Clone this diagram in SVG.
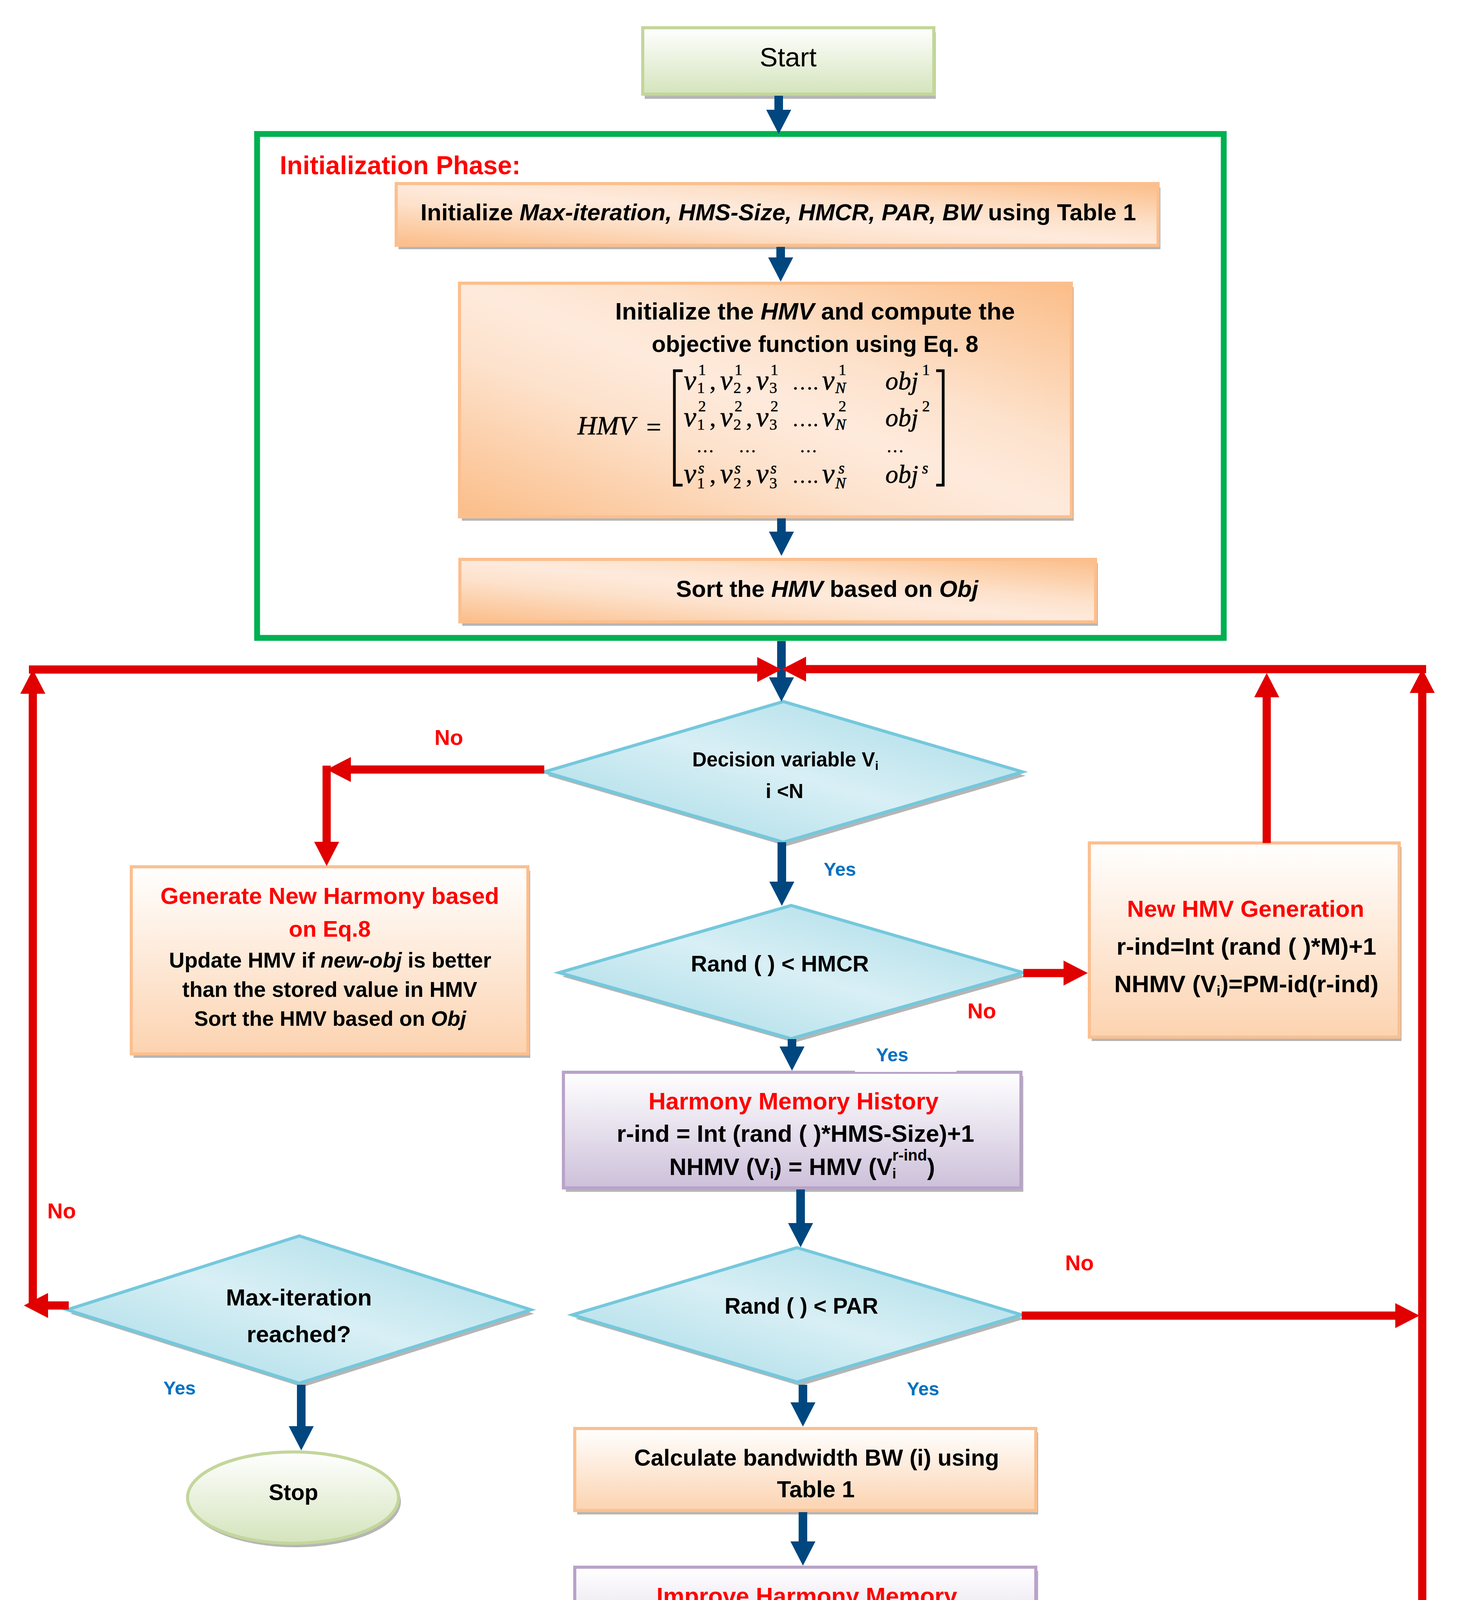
<svg xmlns="http://www.w3.org/2000/svg" width="3729" height="4523" viewBox="0 0 3729 4523">
<style>
.t{font-family:"Liberation Sans",Arial,sans-serif;font-weight:bold;fill:#000}
.c{text-anchor:middle}
.red{fill:#ff0000}
.blue{fill:#0070c0}
.it{font-style:italic}
.m{font-family:"Liberation Serif","Times New Roman",serif;font-style:italic;fill:#000;stroke:#000;stroke-width:0.8}
.mu{font-family:"Liberation Serif","Times New Roman",serif;fill:#000;stroke:#000;stroke-width:0.6}
.s{font-size:40px}
.v{font-size:72px}
.shd{fill:#6b6b6b;opacity:0.5}
.ob{fill:url(#gOrange);stroke:#fbbf8e;stroke-width:8}
.pb{fill:url(#gPeach);stroke:#fac090;stroke-width:8}
.lb{fill:url(#gLav);stroke:#b9a3c9;stroke-width:8}
.gb{fill:url(#gGreen);stroke:#c3d69b;stroke-width:8}
.db{fill:url(#gCyan);stroke:#74c8dc;stroke-width:8}
.bl{stroke:#00477f;stroke-width:22;fill:none}
.rl{stroke:#e00000;stroke-width:21;fill:none}
</style>
<defs>
<linearGradient id="gOrange" x1="0" y1="1" x2="1" y2="0">
<stop offset="0" stop-color="#fbbd88"/><stop offset="0.35" stop-color="#fde2cc"/><stop offset="0.5" stop-color="#feeadc"/><stop offset="0.65" stop-color="#fde2cc"/><stop offset="1" stop-color="#fbbd88"/>
</linearGradient>
<linearGradient id="gCyan" x1="0" y1="1" x2="1" y2="0">
<stop offset="0" stop-color="#a3d9e5"/><stop offset="0.5" stop-color="#d8eff5"/><stop offset="1" stop-color="#a3d9e5"/>
</linearGradient>
<linearGradient id="gPeach" x1="0" y1="0" x2="0" y2="1">
<stop offset="0" stop-color="#ffffff"/><stop offset="1" stop-color="#fcd3b0"/>
</linearGradient>
<linearGradient id="gLav" x1="0" y1="0" x2="0" y2="1">
<stop offset="0" stop-color="#ffffff"/><stop offset="1" stop-color="#cdc0da"/>
</linearGradient>
<linearGradient id="gGreen" x1="0" y1="0" x2="0" y2="1">
<stop offset="0" stop-color="#ffffff"/><stop offset="1" stop-color="#d4e4bc"/>
</linearGradient>
<marker id="ab" markerUnits="userSpaceOnUse" viewBox="0 0 62 64" markerWidth="62" markerHeight="64" refX="0" refY="32" orient="auto"><path d="M0,0 L62,32 L0,64 z" fill="#00477f"/></marker>
<marker id="ar" markerUnits="userSpaceOnUse" viewBox="0 0 62 64" markerWidth="62" markerHeight="64" refX="0" refY="32" orient="auto"><path d="M0,0 L62,32 L0,64 z" fill="#e00000"/></marker>
</defs>
<rect x="0" y="0" width="3729" height="4523" fill="#ffffff"/>

<g id="start">
<rect class="shd" x="1650" y="83" width="745" height="170"/>
<rect class="gb" x="1645" y="71" width="745" height="170"/>
<text class="t c" x="2017" y="170" font-size="69" style="font-weight:normal">Start</text>
</g>

<g id="init-phase">
<rect x="658" y="343" width="2474" height="1290" fill="none" stroke="#00b050" stroke-width="15"/>
<text class="t red" x="716" y="446" font-size="66">Initialization Phase:</text>
</g>

<g id="init-params">
<rect class="shd" x="1020" y="480" width="1950" height="158"/>
<rect class="ob" x="1014" y="470" width="1950" height="158"/>
<text class="t c" x="1992" y="564" font-size="60">Initialize <tspan class="it">Max-iteration, HMS-Size, HMCR, PAR, BW</tspan> using Table 1</text>
</g>

<g id="init-hmv">
<rect class="shd" x="1182" y="735" width="1566" height="598"/>
<rect class="ob" x="1176" y="725" width="1566" height="598"/>
<text class="t c" x="2086" y="818" font-size="62">Initialize the <tspan class="it">HMV</tspan> and compute the</text>
<text class="t c" x="2086" y="901" font-size="59">objective function using Eq. 8</text>
<text class="m" x="1478" y="1112" font-size="68">HMV</text>
<text class="mu" x="1654" y="1116" font-size="68">=</text>
<path d="M1747,949 H1726 V1242 H1747 M2396,949 H2414 V1242 H2396" fill="none" stroke="#000" stroke-width="7"/>
<g font-size="66">
<text class="m v" x="1750" y="997">v</text><text class="mu s" x="1784" y="1006">1</text><text class="mu s" x="1787" y="960">1</text><text class="mu" x="1816" y="997">,</text>
<text class="m v" x="1843" y="997">v</text><text class="mu s" x="1877" y="1006">2</text><text class="mu s" x="1880" y="960">1</text><text class="mu" x="1909" y="997">,</text>
<text class="m v" x="1935" y="997">v</text><text class="mu s" x="1969" y="1006">3</text><text class="mu s" x="1972" y="960">1</text>
<text class="mu" x="2027" y="997" font-size="54">….</text>
<text class="m v" x="2104" y="997">v</text><text class="m s" x="2138" y="1006">N</text><text class="mu s" x="2146" y="960">1</text>
<text class="m" x="2266" y="997">obj</text><text class="mu s" x="2360" y="960">1</text>

<text class="m v" x="1750" y="1091">v</text><text class="mu s" x="1784" y="1100">1</text><text class="mu s" x="1787" y="1053">2</text><text class="mu" x="1816" y="1091">,</text>
<text class="m v" x="1843" y="1091">v</text><text class="mu s" x="1877" y="1100">2</text><text class="mu s" x="1880" y="1053">2</text><text class="mu" x="1909" y="1091">,</text>
<text class="m v" x="1935" y="1091">v</text><text class="mu s" x="1969" y="1100">3</text><text class="mu s" x="1972" y="1053">2</text>
<text class="mu" x="2027" y="1091" font-size="54">….</text>
<text class="m v" x="2104" y="1091">v</text><text class="m s" x="2138" y="1100">N</text><text class="mu s" x="2146" y="1053">2</text>
<text class="m" x="2266" y="1091">obj</text><text class="mu s" x="2360" y="1053">2</text>

<text class="mu" x="1782" y="1158" font-size="46">…</text><text class="mu" x="1890" y="1158" font-size="46">…</text><text class="mu" x="2046" y="1158" font-size="46">…</text><text class="mu" x="2268" y="1158" font-size="46">…</text>

<text class="m v" x="1750" y="1236">v</text><text class="mu s" x="1784" y="1250">1</text><text class="m s" x="1787" y="1212">s</text><text class="mu" x="1816" y="1236">,</text>
<text class="m v" x="1843" y="1236">v</text><text class="mu s" x="1877" y="1250">2</text><text class="m s" x="1880" y="1212">s</text><text class="mu" x="1909" y="1236">,</text>
<text class="m v" x="1935" y="1236">v</text><text class="mu s" x="1969" y="1250">3</text><text class="m s" x="1972" y="1212">s</text>
<text class="mu" x="2027" y="1236" font-size="54">….</text>
<text class="m v" x="2104" y="1236">v</text><text class="m s" x="2138" y="1250">N</text><text class="m s" x="2146" y="1212">s</text>
<text class="m" x="2266" y="1236">obj</text><text class="m s" x="2360" y="1212">s</text>
</g>
</g>

<g id="sort-hmv">
<rect class="shd" x="1183" y="1442" width="1627" height="160"/>
<rect class="ob" x="1177" y="1432" width="1627" height="160"/>
<text class="t c" x="2117" y="1528" font-size="60">Sort the <tspan class="it">HMV</tspan> based on <tspan class="it">Obj</tspan></text>
</g>

<g id="decision-vi">
<polygon class="shd" points="2013,1806 2625,1986 2013,2166 1401,1986"/>
<polygon class="db" points="2005,1796 2617,1976 2005,2156 1393,1976"/>
<text class="t c" x="2010" y="1962" font-size="51">Decision variable V<tspan font-size="32" dy="9">i</tspan></text>
<text class="t c" x="2008" y="2043" font-size="52">i &lt;N</text>
</g>

<g id="generate-new-harmony">
<rect class="shd" x="342" y="2229" width="1015" height="479"/>
<rect class="pb" x="336" y="2219" width="1015" height="479"/>
<text class="t c red" x="844" y="2314" font-size="60">Generate New Harmony based</text>
<text class="t c red" x="844" y="2398" font-size="58">on Eq.8</text>
<text class="t c" x="845" y="2477" font-size="55">Update HMV if <tspan class="it">new-obj</tspan> is better</text>
<text class="t c" x="844" y="2552" font-size="55">than the stored value in HMV</text>
<text class="t c" x="845" y="2626" font-size="54">Sort the HMV based on <tspan class="it">Obj</tspan></text>
</g>

<g id="hmcr">
<polygon class="shd" points="2033,2328 2627,2500 2033,2669 1439,2500"/>
<polygon class="db" points="2025,2318 2619,2490 2025,2659 1431,2490"/>
<text class="t c" x="1996" y="2487" font-size="58">Rand ( ) &lt; HMCR</text>
</g>

<g id="new-hmv-generation">
<rect class="shd" x="2794" y="2168" width="793" height="497"/>
<rect class="pb" x="2788" y="2158" width="793" height="497"/>
<text class="t c red" x="3188" y="2347" font-size="60">New HMV Generation</text>
<text class="t c" x="3190" y="2444" font-size="62">r-ind=Int (rand ( )*M)+1</text>
<text class="t c" x="3190" y="2540" font-size="62">NHMV (V<tspan font-size="36" dy="9">i</tspan><tspan dy="-9">)=PM-id(r-ind)</tspan></text>
</g>

<g id="harmony-memory-history">
<rect class="shd" x="1448" y="2755" width="1171" height="296"/>
<rect class="lb" x="1442" y="2745" width="1171" height="296"/>
<text class="t c red" x="2031" y="2840" font-size="61">Harmony Memory History</text>
<text class="t c" x="2036" y="2923" font-size="61">r-ind = Int (rand ( )*HMS-Size)+1</text>
<text class="t c" x="2053" y="3008" font-size="61">NHMV (V<tspan font-size="36" dy="9">i</tspan><tspan dy="-9">) = HMV (V</tspan><tspan font-size="36" dy="9">i</tspan><tspan font-size="40" dx="-10" dy="-46">r-ind</tspan><tspan dy="37">)</tspan></text>
</g>

<g id="par">
<polygon class="shd" points="2048,3204 2623,3376 2048,3548 1473,3376"/>
<polygon class="db" points="2040,3194 2615,3366 2040,3538 1465,3366"/>
<text class="t c" x="2051" y="3363" font-size="57">Rand ( ) &lt; PAR</text>
</g>

<g id="calculate-bw">
<rect class="shd" x="1477" y="3667" width="1180" height="210"/>
<rect class="pb" x="1471" y="3657" width="1180" height="210"/>
<text class="t c" x="2090" y="3752" font-size="59">Calculate bandwidth BW (i) using</text>
<text class="t c" x="2088" y="3833" font-size="59">Table 1</text>
</g>

<g id="improve-harmony-memory">
<rect class="shd" x="1477" y="4022" width="1180" height="314"/>
<rect class="lb" x="1471" y="4012" width="1180" height="314"/>
<text class="t c red" x="2065" y="4107" font-size="61">Improve Harmony Memory</text>
<text class="t c" x="2029" y="4190" font-size="60">r-ind = r-ind ± BW</text>
<text class="t c" x="2067" y="4275" font-size="61">NHMV( V<tspan font-size="36" dy="9">i</tspan><tspan dy="-9">)= HMV(V</tspan><tspan font-size="36" dy="9">i</tspan><tspan font-size="40" dx="-10" dy="-46">r-ind</tspan><tspan dy="37">,i)</tspan></text>
</g>

<g id="max-iteration">
<polygon class="shd" points="774,3174 1367,3363 774,3551 180,3363"/>
<polygon class="db" points="766,3164 1359,3353 766,3541 172,3353"/>
<text class="t c" x="765" y="3342" font-size="60">Max-iteration</text>
<text class="t c" x="765" y="3436" font-size="60">reached?</text>
</g>

<g id="stop">
<ellipse class="shd" cx="756" cy="3844" rx="270" ry="117"/>
<ellipse class="gb" cx="750" cy="3834" rx="270" ry="117"/>
<text class="t c" x="751" y="3840" font-size="57">Stop</text>
</g>

<g id="connectors">
<path class="bl" d="M1993,245 V281" marker-end="url(#ab)"/>
<path class="bl" d="M1998,632 V659" marker-end="url(#ab)"/>
<path class="bl" d="M2000,1327 V1361" marker-end="url(#ab)"/>
<path class="bl" d="M2000,1641 V1734" marker-end="url(#ab)"/>
<path class="bl" d="M2001,2156 V2257" marker-end="url(#ab)"/>
<path class="bl" d="M2027,2660 V2679" marker-end="url(#ab)"/>
<path class="bl" d="M2049,3045 V3131" marker-end="url(#ab)"/>
<path class="bl" d="M2055,3545 V3590" marker-end="url(#ab)"/>
<path class="bl" d="M2055,3871 V3946" marker-end="url(#ab)"/>
<path class="bl" d="M771,3545 V3651" marker-end="url(#ab)"/>

<path class="rl" d="M176,3342 H123" marker-end="url(#ar)"/>
<path class="rl" d="M84,3342 V1776" marker-end="url(#ar)"/>
<path class="rl" d="M74,1714 H1938" marker-end="url(#ar)"/>
<path class="rl" d="M1393,1970 H898" marker-end="url(#ar)"/>
<path class="rl" d="M836,1960 V2155" marker-end="url(#ar)"/>
<path class="rl" d="M2619,2491 H2722" marker-end="url(#ar)"/>
<path class="rl" d="M3242,2158 V1785" marker-end="url(#ar)"/>
<path class="rl" d="M3650,1713 H2063" marker-end="url(#ar)"/>
<path class="rl" d="M3640,4450 V1774" marker-end="url(#ar)"/>
<path class="rl" d="M2615,3368 H3571" marker-end="url(#ar)"/>
<path class="rl" d="M2049,4326 V4376" marker-end="url(#ar)"/>
<path class="rl" d="M2049,4438 H3579" marker-end="url(#ar)"/>
</g>

<g id="labels">
<text class="t red" x="1112" y="1907" font-size="55">No</text>
<text class="t blue" x="2108" y="2242" font-size="48">Yes</text>
<text class="t red" x="2476" y="2607" font-size="55">No</text>
<rect x="2188" y="2668" width="260" height="76" fill="#ffffff"/>
<text class="t blue" x="2242" y="2717" font-size="48">Yes</text>
<text class="t red" x="2726" y="3252" font-size="55">No</text>
<text class="t blue" x="2321" y="3572" font-size="48">Yes</text>
<text class="t red" x="121" y="3119" font-size="55">No</text>
<text class="t blue" x="418" y="3570" font-size="48">Yes</text>
</g>
</svg>
